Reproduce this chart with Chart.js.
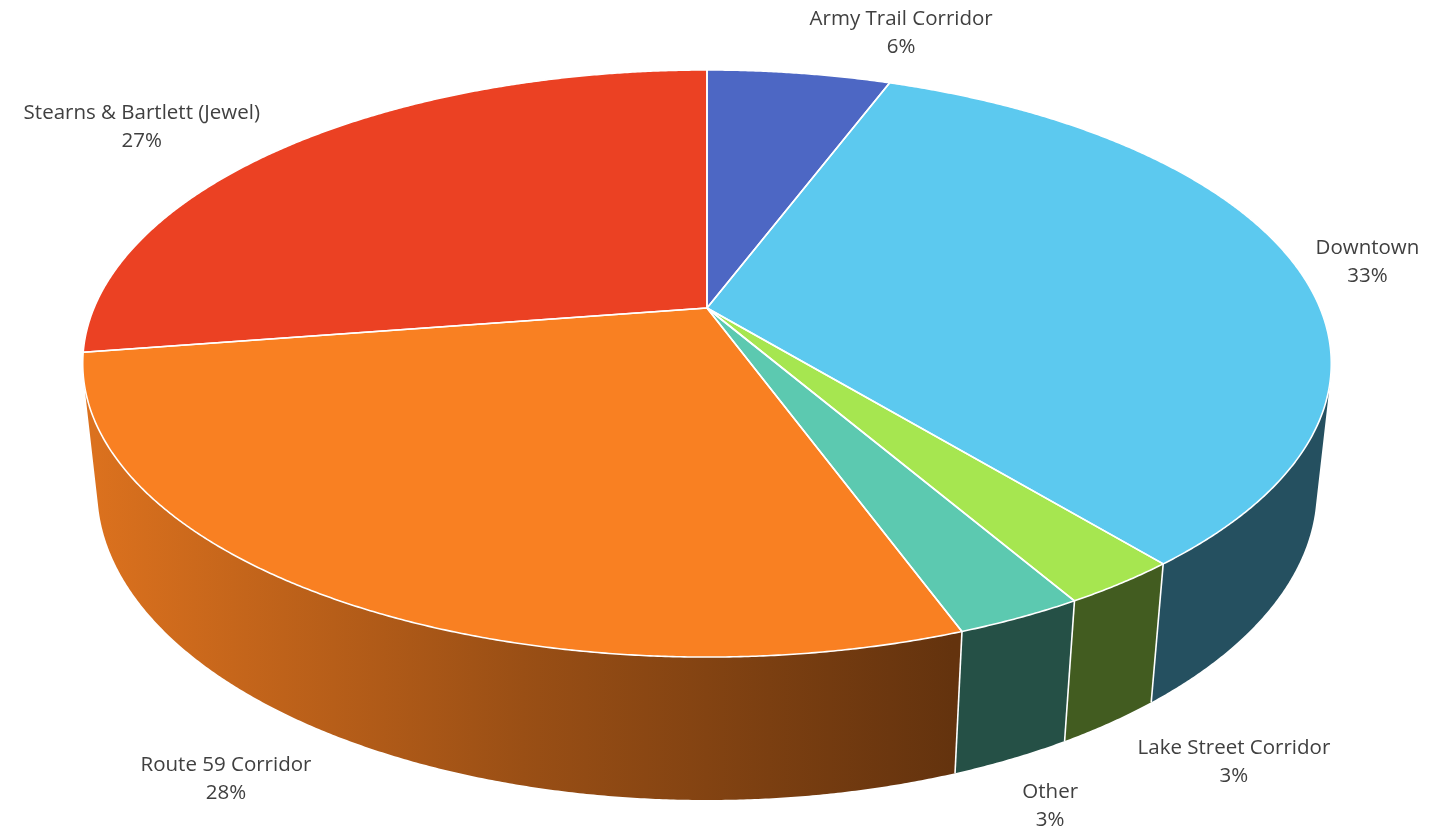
<!DOCTYPE html>
<html><head><meta charset="utf-8">
<script src="https://cdn.jsdelivr.net/npm/chart.js@4.4.1/dist/chart.umd.min.js"></script>
<style>html,body{margin:0;padding:0;background:#fff;overflow:hidden}#wrap{width:1442px;height:831px;position:relative}</style>
</head><body><div id="wrap"><canvas id="c" width="1442" height="831"></canvas></div>
<script>
// ---- data ----
const categories = ['Army Trail Corridor', 'Downtown', 'Lake Street Corridor', 'Other', 'Route 59 Corridor', 'Stearns & Bartlett (Jewel)'];
const shares = [5.7, 33.3, 2.6, 2.8, 28.1, 27.4];
const sliceColors = ['#4D67C4', '#5CC9EF', '#A6E650', '#5CC9B0', '#F98022', '#EB4123'];

// ---- view / layout (not data) ----
const view = { tilt: 27.5, camDist: 4.69, depth: 0.234 };
const labelShift = [[102, -40], [74, -1], [113, 179], [30, 189], [-108, 180], [-151, -17]];
const labelFont = '20.5px "Open Sans"';
const labelColor = '#404040';
const labelGap = 14;

function shade(hex, f) {
  const n = parseInt(hex.slice(1), 16);
  const r = Math.round(((n >> 16) & 255) * f), g = Math.round(((n >> 8) & 255) * f), b = Math.round((n & 255) * f);
  return `rgb(${r},${g},${b})`;
}

function project(el, theta, r, Y) {
  const a = view.tilt * Math.PI / 180, sa = Math.sin(a), ca = Math.cos(a), L = view.camDist;
  const u = r * Math.sin(theta), v = -r * Math.cos(theta);
  const d = 1 - (Y * sa + v * ca) / L;
  return [el.x + el.outerRadius * u / d, el.y + el.outerRadius * (v * sa - Y * ca) / d];
}

function rimPath(ctx, el, s, e, Y, first) {
  const N = Math.max(6, Math.ceil(Math.abs(e - s) / 0.005));
  for (let j = 0; j <= N; j++) {
    const p = project(el, s + (e - s) * j / N, 1, Y);
    if (first && j === 0) ctx.moveTo(p[0], p[1]); else ctx.lineTo(p[0], p[1]);
  }
}

const pie3d = {
  id: 'pie3d',
  beforeDatasetsDraw(chart) {
    const ctx = chart.ctx;
    const els = chart.getDatasetMeta(0).data;
    const a = view.tilt * Math.PI / 180;
    const k = 1 / (view.camDist * Math.cos(a));
    const thMin = Math.acos(-k), thMax = 2 * Math.PI - thMin;
    const H = Math.PI / 2;
    ctx.save();
    // side walls
    els.forEach((el, i) => {
      const s = el.startAngle + H, e = el.endAngle + H;
      const s2 = Math.max(s, thMin), e2 = Math.min(e, thMax);
      if (e2 <= s2) return;
      ctx.beginPath();
      rimPath(ctx, el, s2, e2, 0, true);
      rimPath(ctx, el, e2, s2, -view.depth, false);
      ctx.closePath();
      const R = el.outerRadius;
      const g = ctx.createLinearGradient(el.x - R, 0, el.x + 0.4 * R, 0);
      g.addColorStop(0, shade(sliceColors[i], 0.88));
      g.addColorStop(0.5, shade(sliceColors[i], 0.62));
      g.addColorStop(1, shade(sliceColors[i], 0.40));
      ctx.fillStyle = g;
      ctx.fill();
    });
    // side boundary lines
    ctx.strokeStyle = '#ffffff';
    ctx.lineWidth = 1.6;
    els.forEach((el) => {
      const t = el.startAngle + H;
      const tt = t > 2 * Math.PI ? t - 2 * Math.PI : t;
      if (tt > thMin && tt < thMax) {
        const p = project(el, tt, 1, 0), q = project(el, tt, 1, -view.depth);
        ctx.beginPath(); ctx.moveTo(p[0], p[1]); ctx.lineTo(q[0], q[1]); ctx.stroke();
      }
    });
    // top faces
    const topPath = (el) => {
      const s = el.startAngle + H, e = el.endAngle + H;
      const c = project(el, 0, 0, 0);
      ctx.beginPath();
      ctx.moveTo(c[0], c[1]);
      rimPath(ctx, el, s, e, 0, false);
      ctx.closePath();
    };
    els.forEach((el, i) => { topPath(el); ctx.fillStyle = sliceColors[i]; ctx.fill(); });
    ctx.lineJoin = 'round';
    els.forEach((el) => { topPath(el); ctx.strokeStyle = '#ffffff'; ctx.lineWidth = 1.6; ctx.stroke(); });
    ctx.restore();
    return false;
  },
  afterDraw(chart) {
    const ctx = chart.ctx;
    const els = chart.getDatasetMeta(0).data;
    const total = shares.reduce((s, v) => s + v, 0);
    ctx.save();
    ctx.font = labelFont;
    ctx.fillStyle = labelColor;
    ctx.textAlign = 'center';
    ctx.textBaseline = 'middle';
    els.forEach((el, i) => {
      const mid = (el.startAngle + el.endAngle) / 2 + Math.PI / 2;
      const p = project(el, mid, 1, 0);
      const x = p[0] + labelShift[i][0], y = p[1] + labelShift[i][1];
      ctx.fillText(categories[i], x, y - labelGap);
      ctx.fillText(Math.round(shares[i] / total * 100) + '%', x, y + labelGap);
    });
    ctx.restore();
  }
};

new Chart(document.getElementById('c'), {
  type: 'pie',
  data: {
    labels: categories,
    datasets: [{ data: shares, backgroundColor: sliceColors, borderColor: '#ffffff', borderWidth: 1.5, radius: 613 }]
  },
  options: {
    responsive: false,
    animation: false,
    radius: 613,
    layout: { padding: { left: 0, right: 28, top: 0, bottom: 215 } },
    plugins: { legend: { display: false }, tooltip: { enabled: false } }
  },
  plugins: [pie3d]
});
</script>
</body></html>
